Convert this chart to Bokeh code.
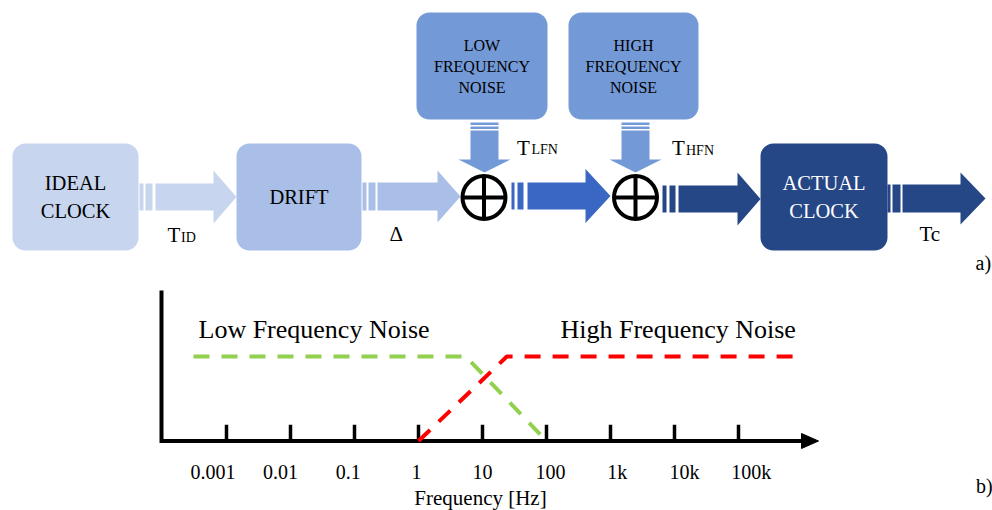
from bokeh.plotting import figure
from bokeh.layouts import column
from bokeh.models import Range1d
from bokeh.embed import file_html
from bokeh.resources import INLINE
from bokeh.core.properties import value

# ---------------- data ----------------
box_lines = [["IDEAL", "CLOCK"], ["DRIFT"], ["LOW", "FREQUENCY", "NOISE"],
             ["HIGH", "FREQUENCY", "NOISE"], ["ACTUAL", "CLOCK"]]
signal_main = ["T", "Δ", "T", "T", "Tc"]
signal_sub = ["ID", "", "LFN", "HFN", ""]

freq_ticks = [1e-3, 1e-2, 1e-1, 1, 10, 100, 1e3, 1e4, 1e5]
freq_labels = ["0.001", "0.01", "0.1", "1", "10", "100", "1k", "10k", "100k"]
lfn_freq = [3.05e-4, 5.5, 100]
lfn_level = [1, 1, 0]
hfn_freq = [1, 24, 9e5]
hfn_level = [0, 1, 1]

FONT = value("Liberation Serif")
W = 992
H_TOP = 280
H_BOT = 230
BASE_SHIFT = 0.3  # baseline correction, in em


def txt(fig, xs, ys, texts, fs, align="left", color="black", x_offset=0):
    fig.text(x=xs, y=ys, text=texts, text_align=align, text_baseline="alphabetic",
             text_font=FONT, text_font_size=f"{fs}px", text_color=color,
             x_offset=x_offset, y_offset=-BASE_SHIFT * fs)


# ---------------- top: block diagram ----------------
top = figure(width=W, height=H_TOP, x_range=Range1d(0, W), y_range=Range1d(H_TOP, 0),
             output_backend="svg", toolbar_location=None, min_border=0,
             x_axis_location=None, y_axis_location=None)
top.grid.visible = False
top.outline_line_color = None

C_IDEAL = "#C7D5EE"
C_DRIFT = "#A9BFE7"
C_NOISE = "#7399D7"
C_MID = "#3A67C4"
C_DARK = "#264785"

boxes = [(12, 138, 143, 250, C_IDEAL), (236, 361, 143, 250, C_DRIFT),
         (416, 547, 12, 119, C_NOISE), (568, 698, 12, 119, C_NOISE),
         (760, 887, 143, 250, C_DARK)]
for (l, r, t, b, c) in boxes:
    top.quad(left=l, right=r, top=t, bottom=b, fill_color=c, line_color=None, border_radius=13)


def rarrow(stripes, xs, xh, xt, yc, hs, hh, color):
    for (a, b) in stripes:
        top.quad(left=a, right=b, top=yc - hs, bottom=yc + hs, fill_color=color, line_color=None)
    top.patch([xs, xh, xh, xt, xh, xh, xs],
              [yc - hs, yc - hs, yc - hh, yc, yc + hh, yc + hs, yc + hs],
              fill_color=color, line_color=None)


def darrow(xc, stripes, ys, yh, yt, hs, hh, color):
    for (a, b) in stripes:
        top.quad(left=xc - hs, right=xc + hs, top=a, bottom=b, fill_color=color, line_color=None)
    top.patch([xc - hs, xc - hs, xc - hh, xc, xc + hh, xc + hs, xc + hs],
              [ys, yh, yh, yt, yh, yh, ys], fill_color=color, line_color=None)


rarrow([(139, 143), (145, 152)], 155, 213, 236, 196.5, 13.5, 26.5, C_IDEAL)
rarrow([(362, 366), (368, 375)], 377, 437, 460, 196, 14, 26, C_DRIFT)
rarrow([(511, 514), (517, 523)], 527, 585, 610, 195.5, 13.5, 27, C_MID)
rarrow([(662, 666), (669, 675)], 678, 737, 760, 198.5, 13.5, 26.5, C_DARK)
rarrow([(887, 890), (892, 900)], 902, 960, 985, 198, 14, 26, C_DARK)

darrow(484, [(122, 124.5), (126, 128.5)], 130, 159, 172, 14, 26, C_NOISE)
darrow(635, [(122, 124.5), (126, 128.5)], 130, 159, 172, 14, 26, C_NOISE)

for (cx, cy) in [(483.5, 197), (635, 197)]:
    top.circle(x=cx, y=cy, radius=21.5, fill_color="white", line_color="black", line_width=4)
    top.segment(x0=[cx - 22, cx], y0=[cy, cy - 22], x1=[cx + 22, cx], y1=[cy, cy + 22],
                line_color="black", line_width=4)

# box texts
box_text_pos = [(75, [188.3, 216.7], 20.5, "black"),
                (298.5, [203], 20.5, "black"),
                (481.5, [50, 71, 92], 16, "black"),
                (633, [50, 71, 92], 16, "black"),
                (823.5, [188.3, 216.7], 20.5, "white")]
for lines, (cx, ys, fs, col) in zip(box_lines, box_text_pos):
    txt(top, [cx] * len(lines), ys, lines, fs, "center", col)

# signal labels (main letter + subscript)
sig_pos = [(167, 180.5, 241), (389, None, 240), (516.5, 531, 153.3), (671.5, 685.5, 154), (919, None, 240)]
for m, s, (x, xs_, yb) in zip(signal_main, signal_sub, sig_pos):
    txt(top, [x], [yb], [m], 21)
    if s:
        txt(top, [xs_], [yb], [s], 14)

txt(top, [975], [268], ["a)"], 20)

# ---------------- bottom: frequency chart ----------------
def fx(px):
    return 10 ** (-3 + (px - 226) / 64.0)


def ly(py):
    return (440.5 - py) / 84.5


bot = figure(width=W, height=H_BOT, x_axis_type="log",
             x_range=Range1d(fx(0), fx(W)), y_range=Range1d(ly(H_TOP + H_BOT), ly(H_TOP)),
             output_backend="svg", toolbar_location=None, min_border=0,
             x_axis_location=None, y_axis_location=None)
bot.grid.visible = False
bot.outline_line_color = None

# axes
bot.line(x=[fx(161), fx(161), fx(806)], y=[ly(290), 0, 0], line_color="black",
         line_width=4, line_join="miter")
bot.patch(x=[fx(801), fx(818), fx(801)], y=[ly(433), 0, ly(448)], fill_color="black", line_color="black")
bot.segment(x0=freq_ticks, y0=[0] * len(freq_ticks), x1=freq_ticks, y1=[ly(424.3)] * len(freq_ticks),
            line_color="black", line_width=3.5)

label_offsets = [-13.5, -10, -6.3, -2, 0, 4, 6.7, 10, 12.7]
txt(bot, freq_ticks, [ly(477)] * len(freq_ticks), freq_labels, 20, "center", x_offset=label_offsets)

bot.line(x=lfn_freq, y=lfn_level, line_color="#92D050", line_width=4, line_dash="16 12")
bot.line(x=hfn_freq, y=hfn_level, line_color="#FF0000", line_width=4, line_dash="16 12")

txt(bot, [fx(198)], [ly(337)], ["Low Frequency Noise"], 26)
txt(bot, [fx(560)], [ly(337)], ["High Frequency Noise"], 26)
txt(bot, [fx(480)], [ly(504)], ["Frequency [Hz]"], 21, "center")
txt(bot, [fx(975.5)], [ly(491)], ["b)"], 20)

layout = column(top, bot, spacing=0)
open("out.html", "w").write(file_html(layout, INLINE))
